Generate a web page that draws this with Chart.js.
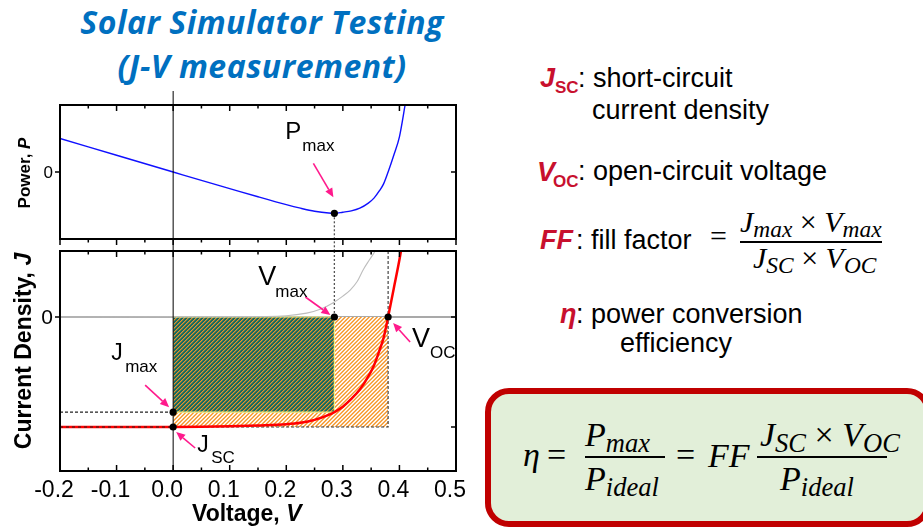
<!DOCTYPE html>
<html>
<head>
<meta charset="utf-8">
<script src="https://cdn.jsdelivr.net/npm/chart.js@4.4.1/dist/chart.umd.min.js"></script>
<style>
  html, body { margin: 0; padding: 0; background: #fff; overflow: hidden; }
  #page { position: relative; width: 923px; height: 531px; overflow: hidden; background: #fff; }
  .t { position: absolute; white-space: nowrap; line-height: 1; font-family: "Liberation Sans", Arial, sans-serif; color: #000; }
  .red { color: #c8102e; font-weight: bold; }
  .m { font-family: "Liberation Serif", serif; font-style: italic; }
  .m .up { font-style: normal; }
  .m sub { font-size: 0.78em; vertical-align: -0.22em; line-height: 0; }
  .bar { position: absolute; background: #000; }
  .rot { position: absolute; transform: translate(-50%, -50%) rotate(-90deg); white-space: nowrap; line-height: 1;
         font-family: "Liberation Sans", Arial, sans-serif; font-weight: bold; }
  #title { position: absolute; left: 62px; top: 0px; width: 400px; text-align: center; line-height: 44px;
           font-family: "Open Sans", Lato, sans-serif; font-weight: bold; font-style: italic; font-size: 32px;
           letter-spacing: 0.5px; color: #0070c0; }
  #box { position: absolute; left: 485px; top: 388px; width: 446px; height: 139px; box-sizing: border-box;
         border: 6px solid #c00000; border-radius: 24px; background: #e2efd9; }
</style>
</head>
<body>
<div id="page">
  <div id="title">Solar Simulator Testing<br>(J-V measurement)</div>

  <div style="position:absolute;left:0;top:80px;width:470px;height:171px;"><canvas id="powerChart" width="470" height="171" style="display:block"></canvas></div>
  <div style="position:absolute;left:0;top:245px;width:470px;height:286px;"><canvas id="jvChart" width="470" height="286" style="display:block"></canvas></div>

  <div class="rot" style="left:24px;top:173px;font-size:17px;">Power, <i>P</i></div>
  <div class="rot" style="left:23px;top:351px;font-size:23px;">Current Density, <i>J</i></div>
  <div class="t" style="left:192px;top:502px;font-size:23px;font-weight:bold;">Voltage, <i>V</i></div>

  <!-- definitions -->
  <div class="t red" style="left:540px;top:65px;font-size:27px;font-style:italic;">J</div>
  <div class="t red" style="left:555px;top:79px;font-size:17px;">SC</div>
  <div class="t" style="left:578px;top:65px;font-size:27px;">: short-circuit</div>
  <div class="t" style="left:592px;top:97px;font-size:27px;">current density</div>

  <div class="t red" style="left:537px;top:159px;font-size:27px;font-style:italic;">V</div>
  <div class="t red" style="left:553px;top:173px;font-size:17px;">OC</div>
  <div class="t" style="left:578px;top:158px;font-size:27px;">: open-circuit voltage</div>

  <div class="t red" style="left:540px;top:227px;font-size:27px;font-style:italic;">FF</div>
  <div class="t" style="left:576px;top:227px;font-size:27px;">: fill factor</div>
  <div class="t m" style="left:710px;top:221px;font-size:30px;"><span class="up">=</span></div>
  <div class="t m" style="left:740px;top:207px;font-size:30px;">J<sub>max</sub> <span class="up">×</span> V<sub>max</sub></div>
  <div class="bar" style="left:740px;top:241px;width:142px;height:1.5px;"></div>
  <div class="t m" style="left:753px;top:243px;font-size:30px;">J<sub>SC</sub> <span class="up">×</span> V<sub>OC</sub></div>

  <div class="t red" style="left:560px;top:301px;font-size:27px;font-style:italic;">η</div>
  <div class="t" style="left:576px;top:301px;font-size:27px;">: power conversion</div>
  <div class="t" style="left:620px;top:330px;font-size:27px;">efficiency</div>

  <div id="box"></div>
  <div class="t m" style="left:523px;top:438px;font-size:34px;">η</div>
  <div class="t m" style="left:547px;top:438px;font-size:34px;"><span class="up">=</span></div>
  <div class="t m" style="left:585px;top:418px;font-size:34px;">P<sub>max</sub></div>
  <div class="bar" style="left:585px;top:456px;width:80px;height:2px;"></div>
  <div class="t m" style="left:585px;top:462px;font-size:34px;">P<sub>ideal</sub></div>
  <div class="t m" style="left:676px;top:438px;font-size:34px;"><span class="up">=</span></div>
  <div class="t m" style="left:708px;top:439px;font-size:34px;">FF</div>
  <div class="t m" style="left:760px;top:418px;font-size:34px;">J<sub>SC</sub> <span class="up">×</span> V<sub>OC</sub></div>
  <div class="bar" style="left:757px;top:456px;width:130px;height:2px;"></div>
  <div class="t m" style="left:780px;top:462px;font-size:34px;">P<sub>ideal</sub></div>
</div>

<script>
// ---- measured curves (arbitrary units for J and P) ----
const volt       = [-0.2, -0.1, 0, 0.05, 0.1, 0.15, 0.2, 0.225, 0.25, 0.275, 0.285, 0.3, 0.315, 0.33, 0.345, 0.355, 0.365, 0.372, 0.38, 0.39, 0.4, 0.41];
const curDensity = [-1.0, -1.0, -1.0, -0.998, -0.994, -0.986, -0.975, -0.962, -0.935, -0.89, -0.865, -0.815, -0.745, -0.66, -0.54, -0.44, -0.30, -0.19, 0.0, 0.26, 0.52, 0.82];

const powerVolt  = [-0.2, -0.1, 0, 0.05, 0.1, 0.15, 0.2, 0.225, 0.25, 0.275, 0.285, 0.3, 0.315, 0.33, 0.345, 0.355, 0.365, 0.372, 0.38, 0.39, 0.4, 0.41, 0.415];
const power      = [0.2, 0.1, 0, -0.05, -0.099, -0.148, -0.195, -0.216, -0.234, -0.245, -0.2465, -0.24, -0.232, -0.216, -0.186, -0.156, -0.11, -0.071, 0, 0.1, 0.21, 0.40, 0.5];

const darkVolt   = [-0.2, 0.1, 0.2, 0.236, 0.26, 0.283, 0.3, 0.313, 0.325, 0.336, 0.347, 0.357, 0.365];
const darkJ      = [0, 0.003, 0.012, 0.035, 0.07, 0.13, 0.19, 0.245, 0.32, 0.43, 0.52, 0.6, 0.7];

// characteristic points
const VOC = 0.38, JSC = -1.0, VMAX = 0.285, JMAX = -0.865, PMAX = -0.2465;

// axes
const xTickValues = [-0.2, -0.1, 0.0, 0.1, 0.2, 0.3, 0.4, 0.5];
const yTickLabelValues = [0];
const xRange = [-0.2, 0.5];
const jRange = [-1.4, 0.6];
const pRange = [-0.4, 0.4];

const PINK = '#ff1a8c';
const SANS = '"Liberation Sans", Arial, sans-serif';

function pts(xs, ys) { return xs.map((v, i) => ({ x: v, y: ys[i] })); }

// 4x4 diagonal ("/") hatch tile; colours indexed by (col + row) % 4
function hatch(colors) {
  const c = document.createElement('canvas');
  c.width = c.height = 4;
  const g = c.getContext('2d');
  for (let i = 0; i < 4; i++) for (let j = 0; j < 4; j++) {
    g.fillStyle = colors[(i + j) % 4];
    g.fillRect(i, j, 1, 1);
  }
  return g.createPattern(c, 'repeat');
}

function arrow(ctx, x1, y1, x2, y2) {
  const a = Math.atan2(y2 - y1, x2 - x1), L = 9, W = 4;
  const bx = x2 - L * Math.cos(a), by = y2 - L * Math.sin(a);
  ctx.strokeStyle = PINK; ctx.fillStyle = PINK; ctx.lineWidth = 1.6;
  ctx.beginPath(); ctx.moveTo(x1, y1); ctx.lineTo(bx, by); ctx.stroke();
  ctx.beginPath(); ctx.moveTo(x2, y2);
  ctx.lineTo(bx - W * Math.sin(a), by + W * Math.cos(a));
  ctx.lineTo(bx + W * Math.sin(a), by - W * Math.cos(a));
  ctx.closePath(); ctx.fill();
}

// frame, tick marks, tick labels, guide lines and callouts
const decor = {
  id: 'decor',
  afterDatasetsDraw(chart, args, o) {
    const { ctx, chartArea: a, scales: { x, y } } = chart;
    ctx.save();
    // V = 0 line
    const x0 = x.getPixelForValue(0);
    ctx.strokeStyle = '#000'; ctx.lineWidth = 1; ctx.setLineDash([]);
    ctx.beginPath(); ctx.moveTo(x0, a.top - o.zeroUp); ctx.lineTo(x0, o.zeroToEdge ? chart.height : a.bottom); ctx.stroke();
    // V_max guide
    const xm = x.getPixelForValue(VMAX);
    ctx.strokeStyle = '#555'; ctx.lineWidth = 1.3; ctx.setLineDash([2, 2]);
    ctx.beginPath();
    if (o.guideDown) { ctx.moveTo(xm, y.getPixelForValue(PMAX)); ctx.lineTo(xm, chart.height); }
    else { ctx.moveTo(xm, a.top); ctx.lineTo(xm, y.getPixelForValue(0)); }
    ctx.stroke();
    ctx.setLineDash([]);
    // dots
    ctx.fillStyle = '#000';
    for (const p of o.dots) {
      ctx.beginPath(); ctx.arc(x.getPixelForValue(p[0]), y.getPixelForValue(p[1]), 3.6, 0, Math.PI * 2); ctx.fill();
    }
    ctx.restore();
  },
  afterDraw(chart, args, o) {
    const { ctx, chartArea: a, scales: { x, y } } = chart;
    ctx.save();
    ctx.strokeStyle = '#000'; ctx.lineWidth = 2; ctx.setLineDash([]);
    ctx.strokeRect(a.left, a.top, a.right - a.left, a.bottom - a.top);
    ctx.lineWidth = 1.5;
    ctx.beginPath();
    for (let k = 0; k < xTickValues.length; k++) {
      const vals = [xTickValues[k]];
      if (k < xTickValues.length - 1) vals.push((xTickValues[k] + xTickValues[k + 1]) / 2);
      vals.forEach((v, j) => {
        const px = x.getPixelForValue(v), len = j === 0 ? 6 : 3.5;
        ctx.moveTo(px, a.top); ctx.lineTo(px, a.top + len);
        ctx.moveTo(px, a.bottom); ctx.lineTo(px, a.bottom + (o.bottomOut ? len : -len));
      });
    }
    for (const v of o.leftTicks) { const py = y.getPixelForValue(v); ctx.moveTo(a.left, py); ctx.lineTo(a.left - 5, py); }
    for (const v of o.rightTicks) { const py = y.getPixelForValue(v); ctx.moveTo(a.right, py); ctx.lineTo(a.right - 5, py); }
    ctx.stroke();

    // tick labels
    ctx.fillStyle = '#000';
    ctx.font = o.yFont + 'px ' + SANS; ctx.textAlign = 'right'; ctx.textBaseline = 'middle';
    for (const v of yTickLabelValues) ctx.fillText(String(v), a.left - 7, y.getPixelForValue(v) + 1);
    if (o.xLabels) {
      ctx.font = '23px ' + SANS; ctx.textAlign = 'center'; ctx.textBaseline = 'alphabetic';
      for (const v of xTickValues) ctx.fillText(v.toFixed(1), x.getPixelForValue(v) - 6, a.bottom + 26);
    }

    // callouts
    for (const n of o.notes) {
      const ax = x.getPixelForValue(n.at[0]), ay = y.getPixelForValue(n.at[1]);
      arrow(ctx, ax + n.tail[0], ay + n.tail[1], ax + n.head[0], ay + n.head[1]);
      ctx.fillStyle = '#000'; ctx.textBaseline = 'alphabetic'; ctx.textAlign = 'left';
      ctx.font = n.size + 'px ' + SANS;
      ctx.fillText(n.main, ax + n.mainAt[0], ay + n.mainAt[1]);
      ctx.font = '17px ' + SANS;
      ctx.fillText(n.sub, ax + n.subAt[0], ay + n.subAt[1]);
    }
    ctx.restore();
  }
};

function scales(yRange) {
  return {
    x: { type: 'linear', display: false, min: xRange[0], max: xRange[1] },
    y: { type: 'linear', display: false, min: yRange[0], max: yRange[1] }
  };
}

// ---- power vs voltage ----
new Chart(document.getElementById('powerChart'), {
  type: 'line',
  data: {
    datasets: [
      { data: pts(powerVolt, power), borderColor: '#1010ff', borderWidth: 1.4, pointRadius: 0, cubicInterpolationMode: 'monotone' }
    ]
  },
  options: {
    responsive: false, animation: false, events: [],
    layout: { padding: { top: 25, right: 14, left: 60, bottom: 12 } },
    plugins: {
      legend: { display: false }, tooltip: { enabled: false },
      decor: {
        zeroUp: 14, zeroToEdge: true, guideDown: true, yFont: 17, xLabels: false,
        dots: [[VMAX, PMAX]], bottomOut: true, leftTicks: [0], rightTicks: [0],
        notes: [{ at: [VMAX, PMAX], tail: [-21, -50], head: [-1, -16], main: 'P', mainAt: [-49, -74], sub: 'max', subAt: [-32, -62], size: 24 }]
      }
    },
    scales: scales(pRange)
  },
  plugins: [decor]
});

// ---- current density vs voltage ----
const orangeHatch = hatch(['#f5992e', '#f8b468', '#ffffff', '#fde5c8']);
const greenHatch = hatch(['#e4922a', '#6f7f4c', '#17695e', '#17695e']);

new Chart(document.getElementById('jvChart'), {
  type: 'line',
  data: {
    datasets: [
      { data: [{ x: xRange[0], y: 0 }, { x: xRange[1], y: 0 }], borderColor: '#555', borderWidth: 1.2, pointRadius: 0, order: 10 },
      { data: [{ x: 0, y: JSC }, { x: VOC, y: JSC }], borderWidth: 0, pointRadius: 0, fill: 'origin', backgroundColor: orangeHatch, order: 9 },
      { data: [{ x: 0, y: JMAX }, { x: VMAX, y: JMAX }], borderWidth: 0, pointRadius: 0, fill: 'origin', backgroundColor: greenHatch, order: 8 },
      { data: [{ x: 0, y: 0 }, { x: VMAX, y: 0 }, { x: VMAX, y: JMAX }, { x: 0, y: JMAX }], borderColor: '#f2f28a', borderWidth: 1.2, pointRadius: 0, order: 7 },
      { data: pts(darkVolt, darkJ), borderColor: '#bdbdbd', borderWidth: 1.1, pointRadius: 0, cubicInterpolationMode: 'monotone', order: 6 },
      { data: [{ x: VOC, y: jRange[1] }, { x: VOC, y: JSC }, { x: 0, y: JSC }], borderColor: '#333', borderWidth: 1.1, borderDash: [3, 2], pointRadius: 0, order: 5 },
      { data: [{ x: xRange[0], y: JMAX }, { x: 0, y: JMAX }], borderColor: '#222', borderWidth: 1.1, borderDash: [3, 2], pointRadius: 0, order: 5 },
      { data: pts(volt, curDensity), borderColor: '#ff0000', borderWidth: 2.5, pointRadius: 0, cubicInterpolationMode: 'monotone', order: 3 },
      { data: [{ x: xRange[0], y: JSC }, { x: 0, y: JSC }], borderColor: '#222', borderWidth: 1.1, borderDash: [3, 3], pointRadius: 0, order: 2 }
    ]
  },
  options: {
    responsive: false, animation: false, events: [],
    layout: { padding: { top: 6, right: 14, left: 60, bottom: 60 } },
    plugins: {
      legend: { display: false }, tooltip: { enabled: false },
      decor: {
        zeroUp: 0, zeroToEdge: false, guideDown: false, yFont: 21, xLabels: true,
        dots: [[0, JSC], [0, JMAX], [VMAX, 0], [VOC, 0]], bottomOut: false, leftTicks: [0], rightTicks: [0, JSC],
        notes: [
          { at: [VMAX, 0], tail: [-29, -20], head: [-4, -2], main: 'V', mainAt: [-76, -32], sub: 'max', subAt: [-59, -20], size: 27 },
          { at: [VOC, 0], tail: [22, 25], head: [5, 6], main: 'V', mainAt: [24, 30], sub: 'OC', subAt: [42, 41], size: 27 },
          { at: [0, JMAX], tail: [-28, -27], head: [-4, -5], main: 'J', mainAt: [-62, -52], sub: 'max', subAt: [-48, -40], size: 23 },
          { at: [0, JSC], tail: [22, 21], head: [3, 5], main: 'J', mainAt: [24, 25], sub: 'SC', subAt: [38, 36], size: 23 }
        ]
      }
    },
    scales: scales(jRange)
  },
  plugins: [decor]
});
</script>
</body>
</html>
